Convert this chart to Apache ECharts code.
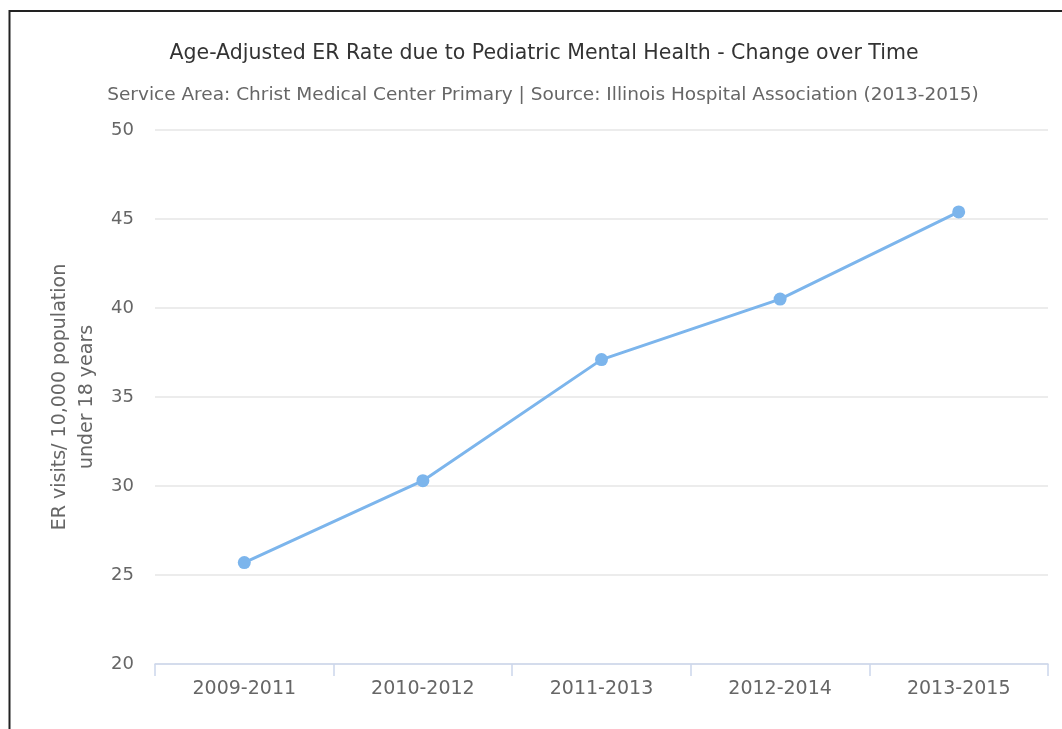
<!DOCTYPE html>
<html>
<head>
<meta charset="utf-8">
<script src="https://cdn.jsdelivr.net/npm/echarts@6/dist/echarts.min.js"></script>
<style>
html,body{margin:0;padding:0;background:#fff;}
#chart{width:1062px;height:729px;}
</style>
</head>
<body>
<div id="chart"></div>
<script>
const titleText = 'Age-Adjusted ER Rate due to Pediatric Mental Health - Change over Time';
const subtitleText = 'Service Area: Christ Medical Center Primary | Source: Illinois Hospital Association (2013-2015)';
const yAxisName = 'ER visits/ 10,000 population\nunder 18 years';
const categories = ['2009-2011', '2010-2012', '2011-2013', '2012-2014', '2013-2015'];
const rateValues = [25.7, 30.3, 37.1, 40.5, 45.4];
const yMin = 20, yMax = 50, yStep = 5;

const chart = echarts.init(document.getElementById('chart'));
chart.setOption({
  animation: false,
  backgroundColor: '#fff',
  title: [{
    text: titleText,
    left: 539, top: 38, textAlign: 'center',
    textStyle: {fontFamily: 'DejaVu Sans', fontSize: 20.5, fontWeight: 'normal', color: '#333'}
  }, {
    text: subtitleText,
    left: 538, top: 81, textAlign: 'center',
    textStyle: {fontFamily: 'DejaVu Sans', fontSize: 18.5, fontWeight: 'normal', color: '#666'}
  }],
  graphic: [{
    type: 'polyline',
    shape: {points: [[1062, 11], [9.5, 11], [9.5, 729]]},
    style: {stroke: '#222', lineWidth: 2, fill: null}
  }],
  grid: {left: 155, right: 14, top: 130, bottom: 65},
  xAxis: {
    type: 'category',
    data: categories,
    boundaryGap: true,
    axisLine: {lineStyle: {color: '#ccd6eb', width: 1.5}},
    axisTick: {show: true, length: 12, lineStyle: {color: '#ccd6eb', width: 1.5}},
    axisLabel: {margin: 16, fontFamily: 'DejaVu Sans', fontSize: 19, color: '#666'}
  },
  yAxis: {
    type: 'value',
    min: yMin, max: yMax, interval: yStep,
    name: yAxisName,
    nameLocation: 'middle',
    nameGap: 49,
    nameTextStyle: {fontFamily: 'DejaVu Sans', fontSize: 19, color: '#666', lineHeight: 27, align: 'center'},
    axisLine: {show: false},
    axisTick: {show: false},
    axisLabel: {margin: 21, fontFamily: 'DejaVu Sans', fontSize: 18, color: '#666'},
    splitLine: {lineStyle: {color: '#e6e6e6', width: 1.5}}
  },
  series: [{
    type: 'line',
    data: rateValues,
    symbol: 'circle',
    symbolSize: 13,
    lineStyle: {color: '#7cb5ec', width: 3},
    itemStyle: {color: '#7cb5ec'}
  }]
});
</script>
</body>
</html>
